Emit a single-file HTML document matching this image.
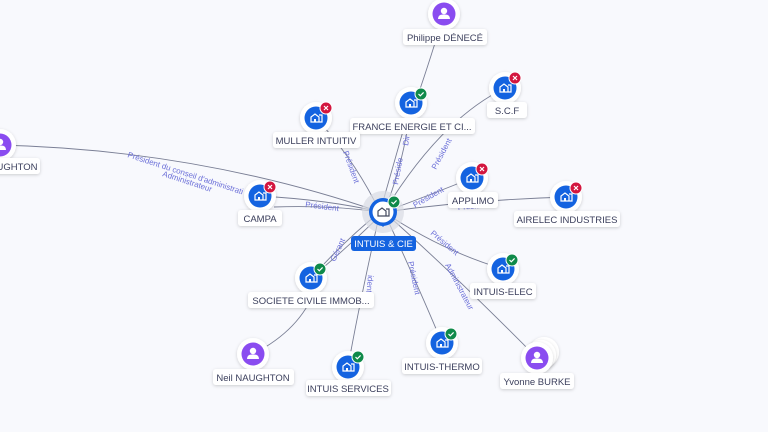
<!DOCTYPE html>
<html><head><meta charset="utf-8">
<style>
html,body{margin:0;padding:0;background:#f8f9fd;}
svg{display:block;}
text{font-family:"Liberation Sans",sans-serif;}
.lbl{font-size:9.5px;fill:#3b3f5c;text-anchor:middle;}
.el{font-size:8px;fill:#6b6fd8;}
.ln{fill:none;stroke:#7a7f95;stroke-width:0.9;}
</style></head>
<body>
<svg width="768" height="432" viewBox="0 0 768 432" xmlns="http://www.w3.org/2000/svg">
<defs>
<filter id="sh" x="-50%" y="-50%" width="200%" height="200%"><feDropShadow dx="0" dy="1" stdDeviation="1.5" flood-color="#000" flood-opacity="0.18"/></filter>
<g id="bld"><path d="M-5 4 V-1 L-1 -4 L3 -1 V4 Z M3 -3 H6 V4 H3" fill="none" stroke="#fff" stroke-width="1.2"/><rect x="-2" y="1" width="2" height="3" fill="#fff"/></g>
<g id="co"><circle r="16" fill="#fff" filter="url(#sh)"/><circle r="11.5" fill="#1463e0"/><use href="#bld"/></g>
<g id="per"><circle r="16" fill="#fff" filter="url(#sh)"/><circle r="11.5" fill="#8a4cf0"/><circle cy="-3" r="3.2" fill="#fff"/><path d="M-6 5 Q-6 0 0 0.5 Q6 0 6 5 Z" fill="#fff"/></g>
<g id="ok"><circle r="6" fill="#0f8a4a" stroke="#fff" stroke-width="1"/><path d="M-2.5 0 L-0.7 1.8 L2.6 -1.6" stroke="#fff" stroke-width="1.2" fill="none"/></g>
<g id="ko"><circle r="6" fill="#d3163f" stroke="#fff" stroke-width="1"/><path d="M-2 -2 L2 2 M2 -2 L-2 2" stroke="#fff" stroke-width="1.2"/></g>
</defs>

<!-- connectors -->
<path class="ln" d="M0 145 Q200 150 380 212"/>
<path class="ln" d="M260 196 Q330 200 380 212"/>
<path class="ln" d="M274 207 Q330 205 380 212"/>
<path class="ln" d="M316 118 Q355 160 380 212"/>
<path class="ln" d="M411 103 Q395 160 380 212"/>
<path class="ln" d="M411 103 Q405 160 384 212"/>
<path class="ln" d="M444 14 Q430 60 418 95"/>
<path class="ln" d="M505 88 Q440 120 384 212"/>
<path class="ln" d="M472 178 Q430 195 384 212"/>
<path class="ln" d="M566 197 Q470 200 384 212"/>
<path class="ln" d="M503 269 Q440 250 384 212"/>
<path class="ln" d="M537 358 Q450 270 384 212"/>
<path class="ln" d="M442 343 Q420 290 384 212"/>
<path class="ln" d="M348 367 Q360 300 380 212"/>
<path class="ln" d="M311 278 Q345 240 380 212"/>
<path class="ln" d="M318 272 Q350 245 382 214"/>
<path class="ln" d="M253 354 Q300 330 315 290"/>

<!-- edge labels -->
<text class="el" transform="translate(127,157) rotate(18)">Président du conseil d'administrati</text>
<text class="el" transform="translate(162,176) rotate(18)">Administrateur</text>
<text class="el" transform="translate(305,207) rotate(7)">Président</text>
<text class="el" transform="translate(343,152) rotate(70)">Président</text>
<text class="el" transform="translate(398,185) rotate(-80)">Préside</text>
<text class="el" transform="translate(408,146) rotate(-80)">Dir</text>
<text class="el" transform="translate(436,170) rotate(-62)">Président</text>
<text class="el" transform="translate(415,208) rotate(-30)">Président</text>
<text class="el" transform="translate(458,210) rotate(-5)">Préside</text>
<text class="el" transform="translate(430,234) rotate(40)">Président</text>
<text class="el" transform="translate(445,265) rotate(62)">Administrateur</text>
<text class="el" transform="translate(408,262) rotate(78)">Président</text>
<text class="el" transform="translate(368,275) rotate(95)">ident</text>
<text class="el" transform="translate(335,262) rotate(-65)">Gérant</text>

<!-- center -->
<circle cx="383" cy="212" r="21" fill="#d9dbe2" opacity="0.7"/>
<path d="M383 227 l-6 -6 h12 z" fill="#1463e0"/>
<circle cx="383" cy="212" r="14" fill="#1463e0"/>
<circle cx="383" cy="212" r="10.5" fill="#fff"/>
<g transform="translate(383,212)"><path d="M-5 4 V-1 L-1 -4 L3 -1 V4 Z M3 -3 H6 V4 H3" fill="none" stroke="#444a5e" stroke-width="1.2"/></g>
<use href="#ok" x="394" y="202"/>
<rect x="351" y="236" width="65" height="15" rx="3" fill="#1463e0"/>
<text x="383.5" y="247" style="font-size:9.5px;fill:#fff;text-anchor:middle;">INTUIS &amp; CIE</text>

<!-- nodes -->
<g transform="translate(0,145)"><use href="#per"/></g>
<rect x="-5" y="158" width="45" height="16" rx="3" fill="#fff" filter="url(#sh)"/><text class="lbl" x="17" y="170">UGHTON</text>

<use href="#per" x="444" y="14"/>
<rect x="403" y="29" width="84" height="16" rx="3" fill="#fff" filter="url(#sh)"/><text class="lbl" x="445" y="41">Philippe DÉNECÉ</text>

<use href="#co" x="411" y="103"/><use href="#ok" x="421" y="94"/>
<rect x="350" y="118" width="125" height="16" rx="3" fill="#fff" filter="url(#sh)"/><text class="lbl" x="412" y="130">FRANCE ENERGIE ET CI...</text>

<use href="#co" x="505" y="88"/><use href="#ko" x="515" y="78"/>
<rect x="487" y="102" width="40" height="16" rx="3" fill="#fff" filter="url(#sh)"/><text class="lbl" x="507" y="114">S.C.F</text>

<use href="#co" x="316" y="118"/><use href="#ko" x="326" y="108"/>
<rect x="273" y="132" width="87" height="16" rx="3" fill="#fff" filter="url(#sh)"/><text class="lbl" x="316" y="144">MULLER INTUITIV</text>

<use href="#co" x="260" y="196"/><use href="#ko" x="270" y="187"/>
<rect x="238" y="210" width="44" height="16" rx="3" fill="#fff" filter="url(#sh)"/><text class="lbl" x="260" y="222">CAMPA</text>

<use href="#co" x="472" y="178"/><use href="#ko" x="482" y="169"/>
<rect x="448" y="192" width="50" height="16" rx="3" fill="#fff" filter="url(#sh)"/><text class="lbl" x="473" y="204">APPLIMO</text>

<use href="#co" x="566" y="197"/><use href="#ko" x="576" y="188"/>
<rect x="514" y="211" width="106" height="16" rx="3" fill="#fff" filter="url(#sh)"/><text class="lbl" x="567" y="223">AIRELEC INDUSTRIES</text>

<use href="#co" x="503" y="269"/><use href="#ok" x="512" y="260"/>
<rect x="470" y="283" width="66" height="16" rx="3" fill="#fff" filter="url(#sh)"/><text class="lbl" x="503" y="295">INTUIS-ELEC</text>

<use href="#co" x="311" y="278"/><use href="#ok" x="320" y="269"/>
<rect x="248" y="292" width="126" height="16" rx="3" fill="#fff" filter="url(#sh)"/><text class="lbl" x="311" y="304">SOCIETE CIVILE IMMOB...</text>

<use href="#per" x="253" y="354"/>
<rect x="213" y="369" width="81" height="16" rx="3" fill="#fff" filter="url(#sh)"/><text class="lbl" x="253" y="381">Neil NAUGHTON</text>

<use href="#co" x="348" y="367"/><use href="#ok" x="358" y="357"/>
<rect x="306" y="380" width="85" height="16" rx="3" fill="#fff" filter="url(#sh)"/><text class="lbl" x="348" y="392">INTUIS SERVICES</text>

<use href="#co" x="442" y="343"/><use href="#ok" x="451" y="334"/>
<rect x="402" y="358" width="80" height="16" rx="3" fill="#fff" filter="url(#sh)"/><text class="lbl" x="442" y="370">INTUIS-THERMO</text>

<circle cx="544" cy="352" r="15" fill="#fff" filter="url(#sh)"/>
<circle cx="541" cy="355" r="15" fill="#fff" filter="url(#sh)"/>
<use href="#per" x="537" y="358"/>
<rect x="500" y="373" width="74" height="16" rx="3" fill="#fff" filter="url(#sh)"/><text class="lbl" x="537" y="385">Yvonne BURKE</text>
</svg>
</body></html>
